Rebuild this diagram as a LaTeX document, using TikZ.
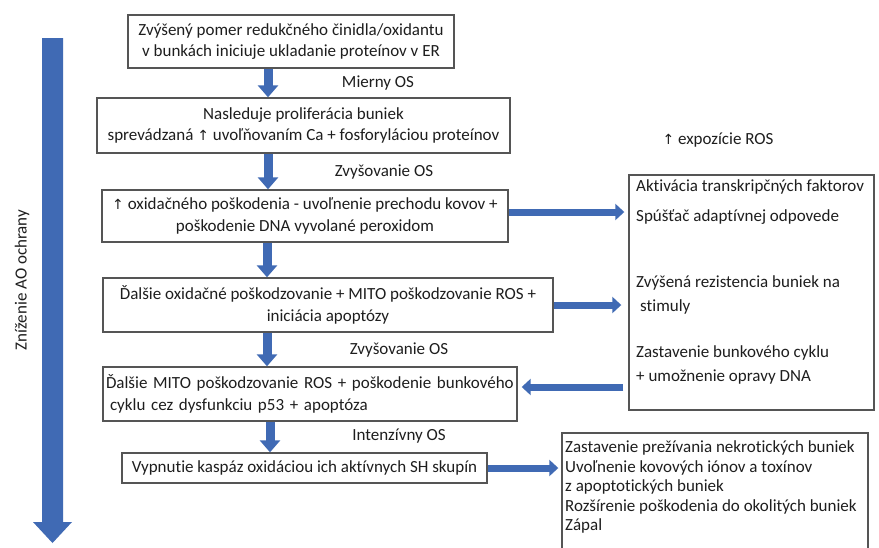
\documentclass[tikz,border=0pt]{standalone}
\usepackage{fontspec}
\setmainfont{Carlito}[Ligatures=CommonOff]
\newfontfamily\dejavu{DejaVu Sans}
\usetikzlibrary{arrows.meta}
\definecolor{arrowblue}{RGB}{64,106,180}
\definecolor{boxline}{RGB}{85,85,85}
\definecolor{txtcol}{RGB}{30,30,30}
\newcommand{\uparw}{{\dejavu\fontsize{14}{14}\selectfont ↑}}
\begin{document}
\begin{tikzpicture}[x=1pt,y=-1pt,
  txt/.style={font=\fontsize{17}{21.5}\selectfont,inner sep=0pt,text=txtcol},
  box/.style={txt,draw=boxline,line width=1.4pt,rectangle},
  line/.style={txt,anchor=west},
  vflow/.style={draw=arrowblue,line width=9pt,-{Triangle[width=20pt,length=12pt]}},
  hflow/.style={draw=arrowblue,line width=7pt,-{Triangle[width=16pt,length=9pt]}}]
\useasboundingbox (0,0) rectangle (879,547);
\clip (0,0) rectangle (879,547);
\fill[white] (0,0) rectangle (879,547);

% big left arrow
\fill[arrowblue] (42,38) -- (63,38) -- (63,522) -- (72,522) -- (52.5,543) -- (33,522) -- (42,522) -- cycle;
\node[txt,rotate=90] (aolbl) at (22,280) {Zníženie AO ochrany};

% main column
\node[box,minimum width=326pt,minimum height=53pt,align=center] (b1) at (291,41.5)
  {Zvýšený pomer redukčného činidla/oxidantu\\v bunkách iniciuje ukladanie proteínov v ER};
\node[box,minimum width=413pt,minimum height=55pt,align=center] (b2) at (303.5,125.5)
  {Nasleduje proliferácia buniek\\sprevádzaná \uparw{} uvoľňovaním Ca + fosforyláciou proteínov};
\node[box,minimum width=406pt,minimum height=52pt,align=center] (b3) at (305,216)
  {\uparw{} oxidačného poškodenia - uvoľnenie prechodu kovov +\\poškodenie DNA vyvolané peroxidom};
\node[box,minimum width=450pt,minimum height=54pt,align=center] (b4) at (328,305)
  {Ďalšie oxidačné poškodzovanie + MITO poškodzovanie ROS +\\iniciácia apoptózy};
\node[box,minimum width=414pt,minimum height=54pt,text width=408pt,align=left] (b5) at (310,394)
  {Ďalšie MITO poškodzovanie ROS + poškodenie bunkového\\\hspace*{4pt}cyklu cez dysfunkciu p53 + apoptóza};
\node[box,minimum width=365pt,minimum height=30pt,align=center] (b6) at (304.5,468)
  {Vypnutie kaspáz oxidáciou ich aktívnych SH skupín};

% stage labels
\node[txt] (l1) at (378,83) {Mierny OS};
\node[txt] (l2) at (384,172) {Zvyšovanie OS};
\node[txt] (l3) at (399,350) {Zvyšovanie OS};
\node[txt] (l4) at (399,436) {Intenzívny OS};
\node[txt] (l5) at (718,140) {\uparw{} expozície ROS};

% right boxes
\node[box,minimum width=245pt,minimum height=235pt] (r1) at (751.5,292.5) {};
\node[line] (r1a) at (636,187) {\strut Aktivácia transkripčných faktorov};
\node[line] (r1b) at (636,217) {\strut Spúšťač adaptívnej odpovede};
\node[line] (r1c) at (636,283) {\strut Zvýšená rezistencia buniek na};
\node[line] (r1d) at (640,307) {\strut stimuly};
\node[line] (r1e) at (636,353) {\strut Zastavenie bunkového cyklu};
\node[line] (r1f) at (636,377) {\strut + umožnenie opravy DNA};

\node[box,minimum width=306pt,minimum height=130pt] (r2) at (715,498) {};
\node[line] (r2a) at (565,448.5) {\strut Zastavenie prežívania nekrotických buniek};
\node[line] (r2b) at (565,468) {\strut Uvoľnenie kovových iónov a toxínov};
\node[line] (r2c) at (565,487.5) {\strut z apoptotických buniek};
\node[line] (r2d) at (565,507) {\strut Rozšírenie poškodenia do okolitých buniek};
\node[line] (r2e) at (565,526.5) {\strut Zápal};

% vertical flow arrows
\draw[vflow] (b1.south -| 268,0) -- (b2.north -| 268,0);
\draw[vflow] (b2.south -| 268,0) -- (b3.north -| 268,0);
\draw[vflow] (b3.south -| 267,0) -- (b4.north -| 267,0);
\draw[vflow] (b4.south -| 267,0) -- (b5.north -| 267,0);
\draw[vflow] (b5.south -| 270,0) -- (b6.north -| 270,0);

% horizontal arrows
\draw[hflow] (b3.east |- 0,212) -- ([xshift=-4pt]r1.west |- 0,212);
\draw[hflow] (b4.east |- 0,305) -- ([xshift=-7pt]r1.west |- 0,305);
\draw[hflow] ([xshift=-5pt]r1.west |- 0,387) -- ([xshift=4pt]b5.east |- 0,387);
\draw[hflow] (b6.east |- 0,468) -- ([xshift=-3pt]r2.west |- 0,468);
\end{tikzpicture}
\end{document}
